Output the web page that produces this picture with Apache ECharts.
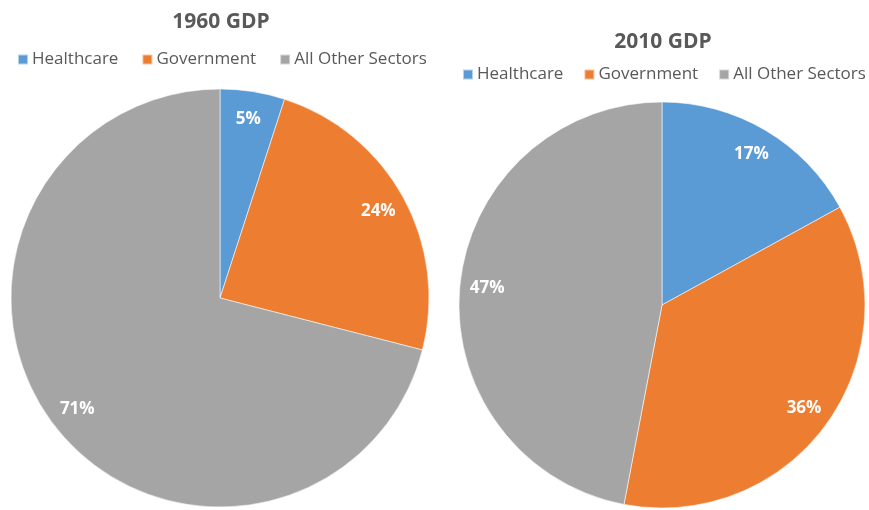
<!DOCTYPE html>
<html>
<head>
<meta charset="utf-8">
<title>GDP share by sector, 1960 vs 2010</title>
<script src="https://cdn.jsdelivr.net/npm/echarts@6/dist/echarts.min.js"></script>
<style>
  html, body { margin: 0; padding: 0; background: #fff; }
  #chart { width: 869px; height: 510px; }
</style>
</head>
<body>
<div id="chart"></div>
<script>
// Sector shares of GDP (percent)
const sectors = ['Healthcare', 'Government', 'All Other Sectors'];
const gdp1960 = [5, 24, 71];
const gdp2010 = [17, 36, 47];
const titles = ['1960 GDP', '2010 GDP'];
const sectorColors = ['#5B9BD5', '#ED7D31', '#A5A5A5'];

const FONT = '"Open Sans", "DejaVu Sans", sans-serif';

function toData(values) {
  return sectors.map((name, i) => ({ name, value: values[i] }));
}

// Solid pie, plus a transparent outer ring that carries the labels near the rim
function pieSeries(values, center, r) {
  return [
    {
      type: 'pie',
      center: center,
      radius: [0, r],
      startAngle: 90,
      clockwise: true,
      silent: true,
      label: { show: false },
      labelLine: { show: false },
      itemStyle: { borderColor: 'rgba(255,255,255,0.55)', borderWidth: 1 },
      emphasis: { disabled: true },
      data: toData(values)
    },
    {
      type: 'pie',
      center: center,
      radius: [r * 0.7, r],
      startAngle: 90,
      clockwise: true,
      silent: true,
      legendHoverLink: false,
      itemStyle: { color: 'rgba(0,0,0,0)', borderWidth: 0 },
      label: {
        show: true,
        position: 'inside',
        formatter: '{c}%',
        color: '#fff',
        fontFamily: FONT,
        fontWeight: 'bold',
        fontSize: 17
      },
      labelLine: { show: false },
      emphasis: { disabled: true },
      data: toData(values)
    }
  ];
}

function legendAt(left, top, gap) {
  return {
    top: top,
    left: left,
    width: 440,
    padding: [5, 0, 5, 0],
    orient: 'horizontal',
    itemWidth: 10,
    itemHeight: 10,
    itemGap: gap,
    icon: 'rect',
    selectedMode: false,
    textStyle: { color: '#595959', fontFamily: FONT, fontSize: 17, padding: [0, 0, 0, -1] },
    data: sectors.map((name, i) => ({ name, itemStyle: { color: sectorColors[i] } }))
  };
}

const chart = echarts.init(document.getElementById('chart'), null, { renderer: 'canvas' });
chart.setOption({
  animation: false,
  color: sectorColors,
  title: [
    {
      text: titles[0], left: 216, top: 7, textAlign: 'center',
      textStyle: { color: '#595959', fontFamily: FONT, fontWeight: 'bold', fontSize: 21 }
    },
    {
      text: titles[1], left: 658, top: 27, textAlign: 'center',
      textStyle: { color: '#595959', fontFamily: FONT, fontWeight: 'bold', fontSize: 21 }
    }
  ],
  legend: [legendAt(17, 46, 23), legendAt(462, 61, 20)],
  series: [
    ...pieSeries(gdp1960, [220, 298], 209),
    ...pieSeries(gdp2010, [662, 305], 203)
  ]
});
</script>
</body>
</html>
